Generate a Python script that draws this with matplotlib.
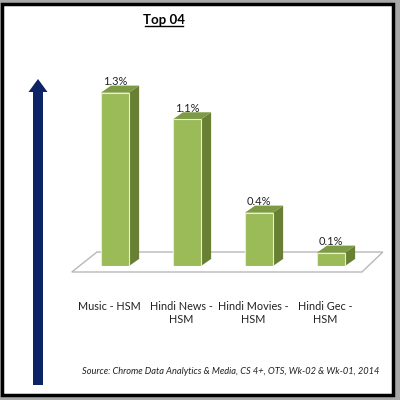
import numpy as np
import matplotlib.pyplot as plt
from matplotlib.patches import Polygon, Rectangle, FancyArrow

# Chart data
categories = ['Music - HSM', 'Hindi News -\nHSM', 'Hindi Movies -\nHSM', 'Hindi Gec -\nHSM']
values = [1.3, 1.1, 0.4, 0.1]
value_labels = ['1.3%', '1.1%', '0.4%', '0.1%']
title = 'Top 04'
source = 'Source: Chrome Data Analytics & Media, CS 4+, OTS, Wk-02 & Wk-01, 2014'

plt.rcParams['font.family'] = ['Lato', 'DejaVu Sans']

fig = plt.figure(figsize=(4, 4), dpi=100)
fig.patch.set_facecolor('#a8a8a8')

# background panel (pixel coords, y down)
bg = fig.add_axes([0, 0, 1, 1])
bg.set_xlim(0, 400)
bg.set_ylim(400, 0)
bg.axis('off')
bg.add_patch(Rectangle((2, 4), 391, 391, facecolor='white', edgecolor='black', lw=2.5))

# navy arrow on the left
bg.add_patch(FancyArrow(38, 385, 0, -306, width=10, head_width=19, head_length=13,
                        length_includes_head=True, color='#0c2466', lw=0))

# title with underline
bg.text(164, 20, title, ha='center', va='center', fontsize=9.5, fontweight='bold', color='black')
bg.plot([145, 183], [26, 26], color='black', lw=1)

bg.text(231, 371, source, ha='center', va='center', fontsize=6.7, style='italic', color='#222222')

# bar chart axes
ax = fig.add_axes([0.1975, 0.335, 0.72, 0.5])
ax.set_xlim(-0.5, 3.5)
ax.set_ylim(0, 1.5)
ax.axis('off')

x = np.arange(len(values))
w = 0.39
dx = 0.14
dy = 0.053

# floor
floor = Polygon([(-0.6, -0.045), (3.43, -0.045), (3.72, 0.105), (-0.25, 0.105)],
                closed=True, facecolor='white', edgecolor='#b8b8b8', lw=1, clip_on=False, zorder=1)
ax.add_patch(floor)

front = '#9bbb59'
side = '#687f34'
top = '#7d9a44'

ax.bar(x, values, width=w, color=front, edgecolor='#e6efd4', lw=0.8, zorder=3)
for xi, v, lab in zip(x, values, value_labels):
    r = xi + w / 2
    l = xi - w / 2
    ax.add_patch(Polygon([(r, 0), (r + dx, dy), (r + dx, v + dy), (r, v)],
                         closed=True, facecolor=side, edgecolor='none', zorder=2, clip_on=False))
    ax.add_patch(Polygon([(l, v), (l + dx, v + dy), (r + dx, v + dy), (r, v)],
                         closed=True, facecolor=top, edgecolor='none', zorder=2, clip_on=False))
    ax.text(xi, v + 0.085, lab, ha='center', va='center', fontsize=8, color='#222222')
    ax.text(xi - 0.08, -0.26, categories[xi], ha='center', va='top', fontsize=7.8,
            color='#222222', linespacing=1.25)

fig.savefig('out.png', dpi=100, facecolor=fig.get_facecolor())
